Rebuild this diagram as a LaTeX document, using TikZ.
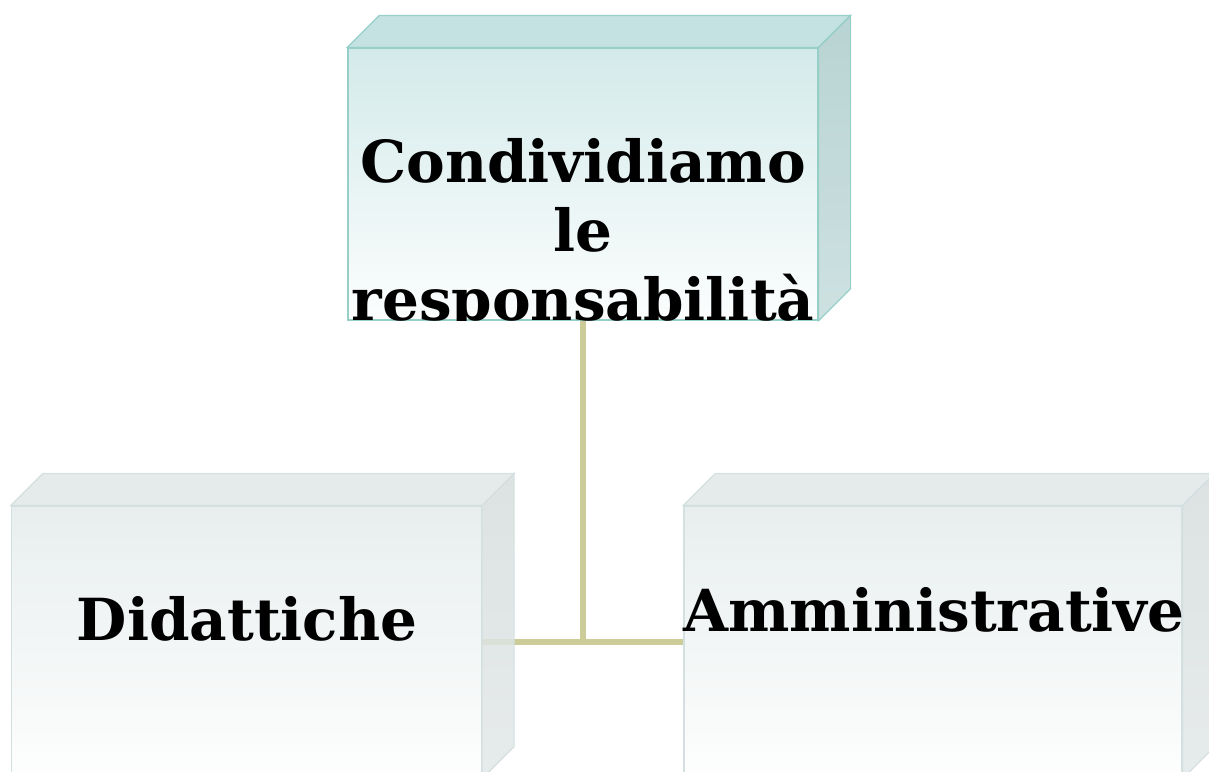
\documentclass[tikz,border=0pt]{standalone}
\usepackage{fontspec}
\setmainfont{DejaVu Serif}
\usetikzlibrary{positioning}
\definecolor{tealtop}{RGB}{197,226,226}
\definecolor{tealfront}{RGB}{212,234,234}
\definecolor{tealside}{RGB}{172,204,204}
\definecolor{tealline}{RGB}{150,206,200}
\definecolor{graytop}{RGB}{229,235,235}
\definecolor{grayfront}{RGB}{232,238,238}
\definecolor{grayside}{RGB}{214,221,221}
\definecolor{grayline}{RGB}{212,224,224}
\definecolor{linkcol}{RGB}{204,204,153}
\tikzset{
frontbox/.style={ % front face of each block
rectangle, draw=#1line, line width=0.6pt,
top color=#1front, bottom color=white!60!#1front!20,
minimum width=235pt, minimum height=136pt, inner sep=0pt},
label text/.style={font=\bfseries\fontsize{29pt}{34.5pt}\selectfont,
align=center, anchor=base},
link/.style={draw=linkcol, line width=3pt}}
% top face and side face behind the front face
\newcommand{\blockfaces}[2]{%
\path[fill=#2top, draw=#2line, line width=0.6pt]
 (#1.north west) -- ++(32,-32) -- ([shift={(32,-32)}]#1.north east)
 -- (#1.north east) -- cycle;
\path[top color=#2side, bottom color=#2side!70!white, draw=#2line,
 line width=0.6pt, fill opacity=0.85]
 (#1.north east) -- ++(32,-32) -- ([shift={(32,-32)}]#1.south east)
 -- (#1.south east) -- cycle;}

\begin{document}
\begin{tikzpicture}[x=0.5pt, y=-0.5pt]
\clip (0,0) rectangle (1209,771);
\node[frontbox=teal] (resp) at (583,184) {};
\node[frontbox=gray] (did) at (246.5,642) {};
\node[frontbox=gray, minimum width=249pt] (adm) at (933,642) {};
\coordinate (hub) at (resp.south |- did.east);
\draw[link] (resp.south) -- (hub);
\draw[link] (did.east) -- (adm.west);
\blockfaces{resp}{teal}
\blockfaces{did}{gray}
\blockfaces{adm}{gray}
\begin{scope}
\clip (resp.south west) rectangle (resp.north east);
\node[label text] (resp-t) at (583,320) {Condividiamo\\le\\responsabilità};
\end{scope}
\node[label text] (did-t) at (247,640) {Didattiche};
\node[label text] (adm-t) at (934,631) {Amministrative};
\end{tikzpicture}
\end{document}
